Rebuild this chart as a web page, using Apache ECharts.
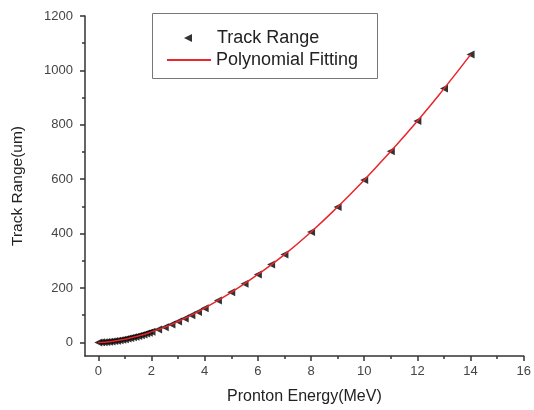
<!DOCTYPE html>
<html>
<head>
<meta charset="utf-8">
<script src="https://cdn.jsdelivr.net/npm/echarts@6/dist/echarts.min.js"></script>
<style>
html,body{margin:0;padding:0;background:#fff;}
#chart{width:534px;height:410px;}
</style>
</head>
<body>
<div id="chart"></div>
<script>
// Proton energy (MeV)
var energy = [0,0.1,0.2,0.3,0.4,0.5,0.6,0.7,0.8,0.9,1.0,1.1,1.2,1.3,1.4,1.5,1.6,1.7,1.8,1.9,2.0,
  2.25,2.5,2.75,3.0,3.25,3.5,3.75,4.0,4.5,5.0,5.5,6.0,6.5,7.0,8,9,10,11,12,13,14];
// Track range (um)
var trackRange = [0,0.3,0.8,1.5,2.5,3.7,5.0,6.5,8.1,9.9,11.9,14.0,16.2,18.6,21.1,23.7,26.5,29.3,32.3,35.4,38.7,
  47,56,66,77,88,100,112,126,154,184,216,250,286,323,406,498,597,703,814,933,1058];
// Polynomial fitting curve samples
var fitEnergy = [0,0.5,1,1.5,2,2.5,3,3.5,4,5,6,7,8,9,10,11,12,13,14];
var fitRange = [0,3.7,11.9,23.7,38.7,56,77,100,126,184,250,323,406,498,597,703,814,933,1058];

var xMajor = [0,2,4,6,8,10,12,14,16];
var xMinor = [1,3,5,7,9,11,13,15];
var yMajor = [0,200,400,600,800,1000,1200];
var yMinor = [100,300,500,700,900,1100];

var seriesNames = ['Track Range','Polynomial Fitting'];

var pts = energy.map(function(e,i){return [e,trackRange[i]];});
var fit = fitEnergy.map(function(e,i){return [e,fitRange[i]];});

var font = '"Liberation Sans", Arial, sans-serif';
var axisCol = '#333';
function plain(v){return String(v);}

var chart = echarts.init(document.getElementById('chart'));
chart.setOption({
  backgroundColor:'#fff',
  animation:false,
  grid:{left:85,right:7,top:16,bottom:51,containLabel:false},
  graphic:[{type:'rect',shape:{x:152.5,y:13.5,width:225,height:65},
    style:{fill:'#fff',stroke:'#777',lineWidth:1},z:10}],
  legend:[
    {data:[{name:seriesNames[0],icon:'path://M0,5L10,0L10,10Z'}],left:184,top:29,
     itemWidth:8,itemHeight:8,padding:0,z:20,itemStyle:{color:'#000'},
     textStyle:{fontFamily:font,fontSize:18,color:'#222',padding:[0,0,0,20]}},
    {data:[{name:seriesNames[1],icon:'rect'}],left:167,top:51,itemWidth:44,itemHeight:2,padding:0,z:20,
     textStyle:{fontFamily:font,fontSize:18,color:'#222'}}
  ],
  xAxis:[{
    type:'value',min:-0.5,max:16,position:'bottom',
    name:'Pronton Energy(MeV)',nameLocation:'middle',nameGap:33,
    nameTextStyle:{fontFamily:font,fontSize:16,color:'#222'},
    axisLine:{show:true,onZero:false,lineStyle:{color:axisCol,width:1.5}},
    axisTick:{show:true,customValues:xMajor,length:5,lineStyle:{color:axisCol,width:1.5}},
    axisLabel:{customValues:xMajor,formatter:plain,fontFamily:font,fontSize:13,color:'#444',margin:9},
    splitLine:{show:false}
  },{
    type:'value',min:-0.5,max:16,position:'bottom',
    axisLine:{show:false,onZero:false},
    axisTick:{show:true,customValues:xMinor,length:3,lineStyle:{color:axisCol,width:1.5}},
    axisLabel:{show:false},splitLine:{show:false}
  }],
  yAxis:[{
    type:'value',min:-50,max:1200,position:'left',
    name:'Track Range(um)',nameLocation:'middle',nameGap:59,
    nameTextStyle:{fontFamily:font,fontSize:15.5,color:'#222'},
    axisLine:{show:true,onZero:false,lineStyle:{color:axisCol,width:1.5}},
    axisTick:{show:true,customValues:yMajor,length:5,lineStyle:{color:axisCol,width:1.5}},
    axisLabel:{customValues:yMajor,formatter:plain,fontFamily:font,fontSize:13,color:'#444',margin:12},
    splitLine:{show:false}
  },{
    type:'value',min:-50,max:1200,position:'left',
    axisLine:{show:false,onZero:false},
    axisTick:{show:true,customValues:yMinor,length:3,lineStyle:{color:axisCol,width:1.5}},
    axisLabel:{show:false},splitLine:{show:false}
  }],
  series:[{
    name:seriesNames[0],type:'scatter',data:pts,
    symbol:'triangle',symbolRotate:90,symbolSize:8,
    itemStyle:{color:'#000'},z:2
  },{
    name:seriesNames[1],type:'line',data:fit,smooth:true,symbol:'none',
    lineStyle:{color:'#e8262c',width:1.5},itemStyle:{color:'#e8262c'},z:3
  }]
});
</script>
</body>
</html>
